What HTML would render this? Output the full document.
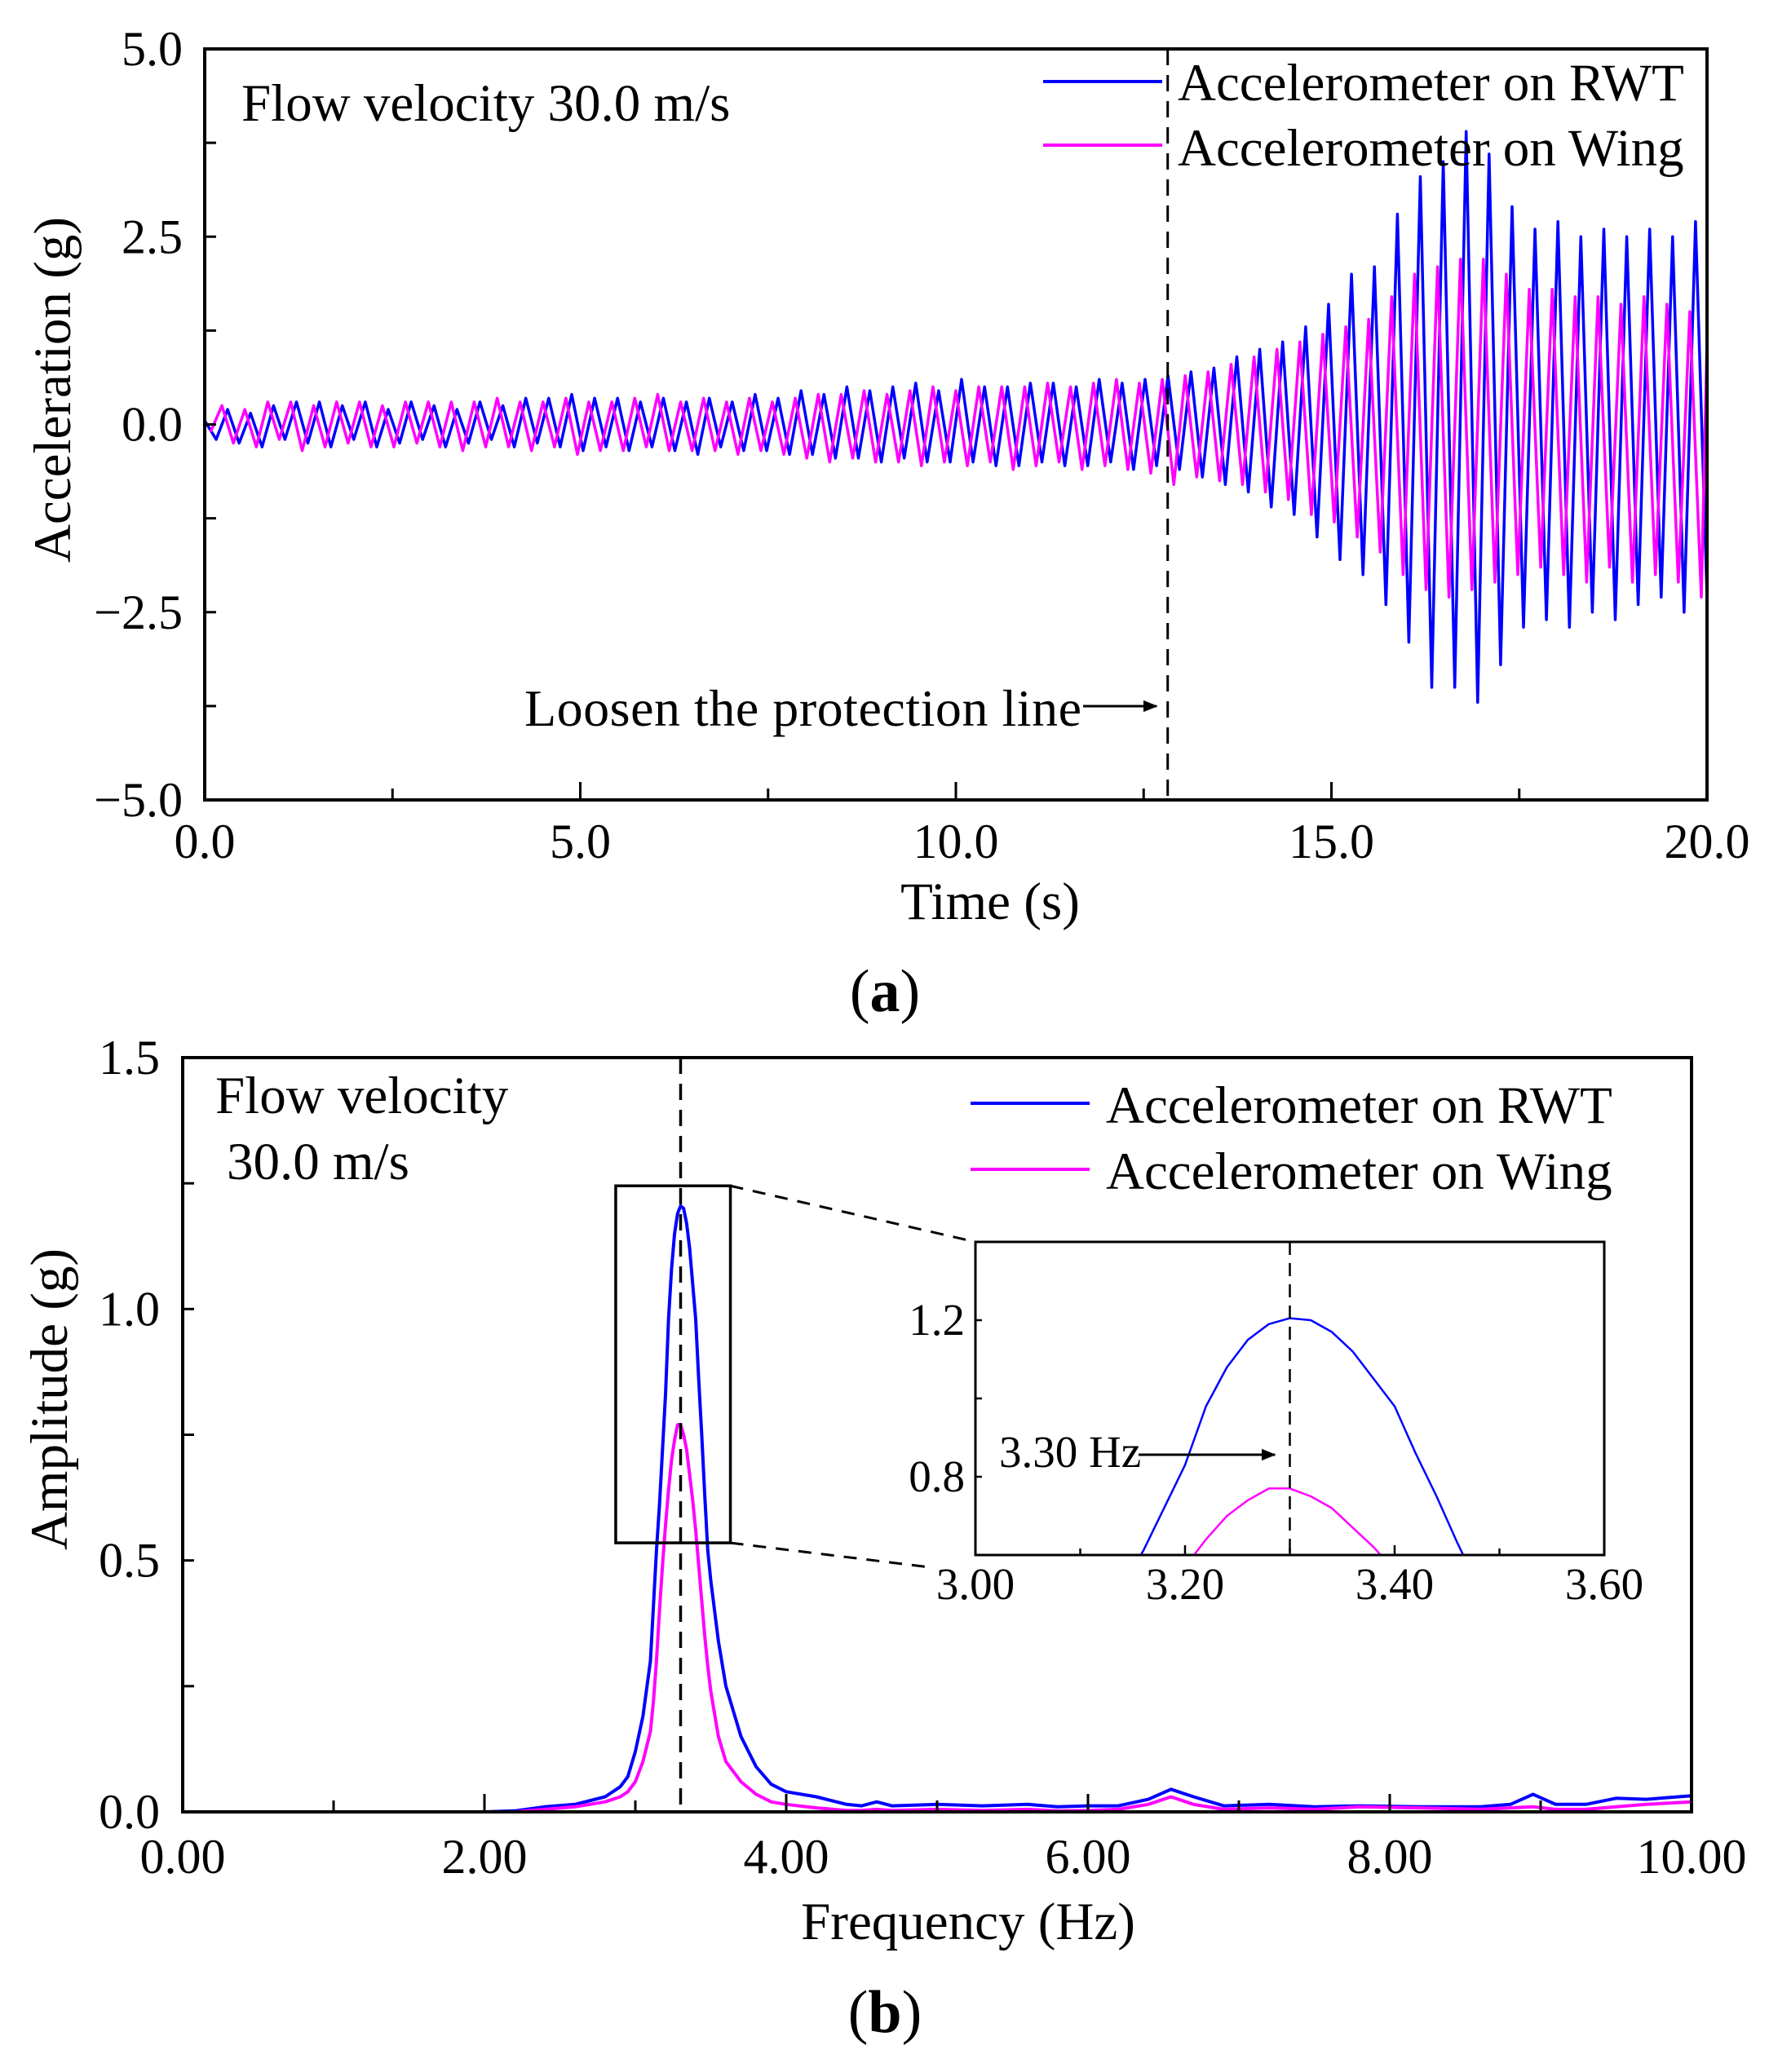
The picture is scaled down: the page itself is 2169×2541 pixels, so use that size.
<!DOCTYPE html>
<html><head><meta charset="utf-8"><style>
html,body{margin:0;padding:0;background:#fff}
svg{display:block}
text{font-family:"Liberation Serif","DejaVu Serif",serif;fill:#000}
</style></head><body>
<svg id="fig" width="2169" height="2541" viewBox="0 0 2169 2541" xmlns="http://www.w3.org/2000/svg">
<defs>
<clipPath id="clipA"><rect x="251" y="60" width="1842" height="921"/></clipPath>
<clipPath id="clipB"><rect x="224" y="1297" width="1850" height="925"/></clipPath>
<clipPath id="clipI"><rect x="1196" y="1523" width="771" height="384"/></clipPath>
<marker id="arr" viewBox="0 0 10 10" refX="9" refY="5" markerWidth="6" markerHeight="6" orient="auto"><path d="M0,1 L10,5 L0,9 z" fill="#000"/></marker>
</defs>
<g id="gA"></g>
<g id="gB"></g>
<g id="gI"></g>
</svg>
<script>
// ---- Chart (a) data ----
const timeRange = [0, 20];
const accTicks = ["5.0","2.5","0.0","\u22122.5","\u22125.0"];
const accTickValues = [5, 2.5, 0, -2.5, -5];
const timeTickLabels = ["0.0","5.0","10.0","15.0","20.0"];
const timeTickValues = [0, 5, 10, 15, 20];
const loosenTime = 12.82;
const rwtAcc = [0.05,-0.2,0.2,-0.25,0.15,-0.3,0.25,-0.2,0.3,-0.25,
0.3,-0.3,0.25,-0.2,0.3,-0.3,0.2,-0.25,0.3,-0.2,
0.25,-0.3,0.2,-0.25,0.3,-0.2,0.25,-0.3,0.35,-0.25,
0.35,-0.3,0.4,-0.35,0.35,-0.3,0.35,-0.35,0.3,-0.3,
0.35,-0.35,0.3,-0.4,0.35,-0.3,0.3,-0.35,0.4,-0.35,
0.35,-0.4,0.45,-0.4,0.4,-0.45,0.5,-0.45,0.45,-0.5,
0.5,-0.45,0.55,-0.5,0.45,-0.5,0.6,-0.5,0.5,-0.55,
0.5,-0.55,0.55,-0.5,0.55,-0.55,0.5,-0.55,0.6,-0.5,
0.55,-0.6,0.6,-0.55,0.65,-0.6,0.7,-0.7,0.75,-0.8,
0.9,-0.9,1.0,-1.1,1.1,-1.2,1.3,-1.5,1.6,-1.8,
2.0,-2.0,2.1,-2.4,2.8,-2.9,3.3,-3.5,3.5,-3.5,
3.9,-3.7,3.6,-3.2,2.9,-2.7,2.6,-2.6,2.7,-2.7,
2.5,-2.5,2.6,-2.6,2.5,-2.4,2.6,-2.3,2.5,-2.5,
2.7,-2.3];
const wingAcc = [-0.1,0.25,-0.25,0.2,-0.3,0.3,-0.2,0.3,-0.35,0.25,
-0.3,0.3,-0.25,0.3,-0.3,0.25,-0.3,0.3,-0.25,0.3,
-0.3,0.3,-0.35,0.3,-0.3,0.35,-0.3,0.3,-0.35,0.3,
-0.3,0.35,-0.4,0.3,-0.35,0.3,-0.35,0.35,-0.3,0.4,
-0.35,0.3,-0.35,0.35,-0.35,0.3,-0.4,0.35,-0.35,0.3,
-0.4,0.35,-0.45,0.4,-0.5,0.4,-0.45,0.45,-0.5,0.4,
-0.5,0.45,-0.55,0.5,-0.5,0.45,-0.55,0.5,-0.5,0.5,
-0.6,0.5,-0.55,0.55,-0.5,0.5,-0.6,0.55,-0.55,0.6,
-0.6,0.55,-0.65,0.6,-0.8,0.65,-0.7,0.7,-0.75,0.8,
-0.8,0.9,-0.9,1.0,-1.0,1.1,-1.2,1.2,-1.3,1.3,
-1.5,1.4,-1.7,1.7,-2.0,2.0,-2.2,2.1,-2.3,2.2,
-2.2,2.2,-2.1,2.0,-2.0,1.8,-1.9,1.8,-2.0,1.7,
-2.1,1.7,-1.9,1.6,-2.1,1.7,-2.0,1.6,-2.1,1.5,
-2.3,1.1];

// ---- Chart (b) data ----
const freqs = [0,0.5,1,1.5,2,2.2,2.4,2.6,2.8,2.9,2.95,3.0,3.05,
3.10,3.12,3.14,3.16,3.18,3.20,3.22,3.24,3.26,3.28,3.30,3.32,3.34,3.36,3.38,3.40,3.42,3.44,3.46,3.48,
3.5,3.55,3.6,3.7,3.8,3.9,4.0,4.2,4.4,4.5,4.6,4.7,5.0,5.3,5.6,5.8,6.0,6.2,6.4,6.55,6.7,6.9,7.2,7.5,7.8,8.2,8.6,8.8,8.95,9.1,9.3,9.5,9.7,10];
const rwtAmp = [0,0,0,0,0,0.002,0.01,0.015,0.03,0.05,0.07,0.12,0.19,
0.3,0.41,0.52,0.61,0.72,0.83,0.98,1.08,1.15,1.19,1.205,1.2,1.17,1.12,1.05,0.98,0.86,0.75,0.63,0.52,
0.46,0.34,0.25,0.15,0.09,0.055,0.04,0.03,0.015,0.012,0.02,0.012,0.015,0.012,0.015,0.01,0.012,0.012,0.025,0.045,0.03,0.012,0.015,0.01,0.012,0.01,0.01,0.015,0.035,0.015,0.015,0.027,0.025,0.032];
const wingAmp = [0,0,0,0,0,0,0.005,0.01,0.02,0.03,0.04,0.06,0.1,
0.16,0.22,0.3,0.4,0.49,0.57,0.64,0.7,0.74,0.77,0.77,0.75,0.72,0.67,0.62,0.56,0.49,0.42,0.35,0.29,
0.24,0.15,0.1,0.06,0.035,0.02,0.015,0.008,0.003,0.003,0.005,0.003,0.005,0.003,0.005,0.002,0.003,0.005,0.015,0.03,0.015,0.005,0.008,0.005,0.01,0.008,0.005,0.008,0.01,0.005,0.005,0.01,0.015,0.02];
const ampTickLabels = ["1.5","1.0","0.5","0.0"];
const ampTickValues = [1.5, 1.0, 0.5, 0.0];
const freqTickLabels = ["0.00","2.00","4.00","6.00","8.00","10.00"];
const freqTickValues = [0,2,4,6,8,10];
const peakFreq = 3.30;
const insetXTickLabels = ["3.00","3.20","3.40","3.60"];
const insetXTickValues = [3.0,3.2,3.4,3.6];
const insetYTickLabels = ["1.2","0.8"];
const insetYTickValues = [1.2,0.8];

const NS = "http://www.w3.org/2000/svg";
function mk(parent, tag, attrs, txt){
  const e = document.createElementNS(NS, tag);
  for (const k in attrs) e.setAttribute(k, attrs[k]);
  if (txt !== undefined) e.textContent = txt;
  parent.appendChild(e);
  return e;
}
function poly(pts){ return pts.map((p,i)=>(i?"L":"M")+p[0].toFixed(1)+","+p[1].toFixed(1)).join(""); }

// ===== Chart A =====
(function(){
  const g = document.getElementById("gA");
  const L=251,R=2093,T=60,B=981;
  const xs = t => L + (t-timeRange[0])/(timeRange[1]-timeRange[0])*(R-L);
  const ys = v => T + (5-v)/10*(B-T);
  const dtR = 20/(rwtAcc.length-1), dtW = 20/(wingAcc.length-1);
  const pr = mk(g,"path",{d:poly(rwtAcc.map((v,i)=>[xs(i*dtR),ys(v)])),fill:"none",stroke:"#0000ff","stroke-width":3.5,"stroke-linejoin":"round","clip-path":"url(#clipA)"});
  
  
  const pw = mk(g,"path",{d:poly(wingAcc.map((v,i)=>[xs(Math.min(20,i*dtW+dtW*0.5)),ys(v)])),fill:"none",stroke:"#ff00ff","stroke-width":3.5,"stroke-linejoin":"round","clip-path":"url(#clipA)"});
  
  
  const dl = mk(g,"line",{x1:xs(loosenTime),x2:xs(loosenTime),y1:T,y2:B,stroke:"#000","stroke-width":3,"stroke-dasharray":"20,12"});
  
  
  const fr = mk(g,"rect",{x:L,y:T,width:R-L,height:B-T,fill:"none",stroke:"#000","stroke-width":4});
  
  
  for (let t=0;t<=20;t+=2.5){
    const big = (t%5===0);
    const tk = mk(g,"line",{x1:xs(t),x2:xs(t),y1:B,y2:B-(big?22:14),stroke:"#000","stroke-width":3});
    
    
  }
  for (let v=-5;v<=5;v+=1.25){
    const tk = mk(g,"line",{x1:L,x2:L+14,y1:ys(v),y2:ys(v),stroke:"#000","stroke-width":3});
    
    
  }
  accTickValues.forEach((v,i)=>{
    const tx = mk(g,"text",{x:224,y:ys(v)+20,"font-size":60,"text-anchor":"end"},accTicks[i]);
    
    
  });
  timeTickValues.forEach((v,i)=>{
    const tx = mk(g,"text",{x:xs(v),y:1052,"font-size":60,"text-anchor":"middle"},timeTickLabels[i]);
    
    
  });
  const xt = mk(g,"text",{x:1214,y:1127,"font-size":65,"text-anchor":"middle"},"Time (s)");
  
  
  const yt = mk(g,"text",{x:0,y:0,"font-size":65,"text-anchor":"middle",transform:"translate(86,478) rotate(-90)"},"Acceleration (g)");
  
  
  const cap = mk(g,"text",{x:1085,y:1240,"font-size":74,"text-anchor":"middle"},"");
  cap.innerHTML = '(<tspan font-weight="bold">a</tspan>)';
  
  
  const fv = mk(g,"text",{x:296,y:148,"font-size":65},"Flow velocity 30.0 m/s");
  
  
  const lo = mk(g,"text",{x:643,y:890,"font-size":64,textLength:683},"Loosen the protection line");
  
  
  const ar = mk(g,"line",{x1:1328,y1:866,x2:1418,y2:866,stroke:"#000","stroke-width":3,"marker-end":"url(#arr)"});
  
  
  const l1 = mk(g,"line",{x1:1279,x2:1425,y1:100,y2:100,stroke:"#0000ff","stroke-width":4});
  
  
  const t1 = mk(g,"text",{x:1444,y:123,"font-size":65},"Accelerometer on RWT");
  
  
  const l2 = mk(g,"line",{x1:1279,x2:1425,y1:178,y2:178,stroke:"#ff00ff","stroke-width":4});
  
  
  const t2 = mk(g,"text",{x:1444,y:203,"font-size":65},"Accelerometer on Wing");
  
  
})();

// ===== Chart B =====
(function(){
  const g = document.getElementById("gB");
  const L=224,R=2074,T=1297,B=2222;
  const xs = f => L + f/10*(R-L);
  const ys = v => B - v/1.5*(B-T);
  const pr = mk(g,"path",{d:poly(freqs.map((f,i)=>[xs(f),ys(rwtAmp[i])])),fill:"none",stroke:"#0000ff","stroke-width":4,"stroke-linejoin":"round","clip-path":"url(#clipB)"});
  
  
  const pw = mk(g,"path",{d:poly(freqs.map((f,i)=>[xs(f),ys(wingAmp[i])])),fill:"none",stroke:"#ff00ff","stroke-width":4,"stroke-linejoin":"round","clip-path":"url(#clipB)"});
  
  
  const dl = mk(g,"line",{x1:xs(peakFreq),x2:xs(peakFreq),y1:T,y2:B,stroke:"#000","stroke-width":3.5,"stroke-dasharray":"20,12"});
  
  
  const fr = mk(g,"rect",{x:L,y:T,width:R-L,height:B-T,fill:"none",stroke:"#000","stroke-width":4});
  
  
  for (let f=0;f<=10;f+=1){
    const tk = mk(g,"line",{x1:xs(f),x2:xs(f),y1:B,y2:B-(f%2===0?22:14),stroke:"#000","stroke-width":3});
    
    
  }
  for (let v=0;v<=1.5;v+=0.25){
    const tk = mk(g,"line",{x1:L,x2:L+14,y1:ys(v),y2:ys(v),stroke:"#000","stroke-width":3});
    
    
  }
  ampTickValues.forEach((v,i)=>{
    const tx = mk(g,"text",{x:196,y:ys(v)+20,"font-size":60,"text-anchor":"end"},ampTickLabels[i]);
    
    
  });
  freqTickValues.forEach((v,i)=>{
    const tx = mk(g,"text",{x:xs(v),y:2297,"font-size":60,"text-anchor":"middle"},freqTickLabels[i]);
    
    
  });
  const xt = mk(g,"text",{x:1187,y:2378,"font-size":65,"text-anchor":"middle"},"Frequency (Hz)");
  
  
  const yt = mk(g,"text",{x:0,y:0,"font-size":65,"text-anchor":"middle",transform:"translate(82,1716) rotate(-90)"},"Amplitude (g)");
  
  
  const cap = mk(g,"text",{x:1085,y:2492,"font-size":74,"text-anchor":"middle"},"");
  cap.innerHTML = '(<tspan font-weight="bold">b</tspan>)';
  
  
  const f1 = mk(g,"text",{x:264,y:1365,"font-size":65},"Flow velocity");
  
  
  const f2 = mk(g,"text",{x:278,y:1446,"font-size":65},"30.0 m/s");
  
  
  const l1 = mk(g,"line",{x1:1190,x2:1336,y1:1353,y2:1353,stroke:"#0000ff","stroke-width":4});
  
  
  const t1 = mk(g,"text",{x:1356,y:1377,"font-size":65},"Accelerometer on RWT");
  
  
  const l2 = mk(g,"line",{x1:1190,x2:1336,y1:1434,y2:1434,stroke:"#ff00ff","stroke-width":4});
  
  
  const t2 = mk(g,"text",{x:1356,y:1458,"font-size":65},"Accelerometer on Wing");
  
  
  const bx0=xs(2.87), bx1=xs(3.63), by0=ys(1.245), by1=ys(0.535);
  const zb = mk(g,"rect",{x:bx0,y:by0,width:bx1-bx0,height:by1-by0,fill:"none",stroke:"#000","stroke-width":3.5});
  
  
  const c1 = mk(g,"line",{x1:bx1,y1:by0,x2:1196,y2:1523,stroke:"#000","stroke-width":3,"stroke-dasharray":"16,12"});
  
  
  const c2 = mk(g,"line",{x1:bx1,y1:by1,x2:1140,y2:1922,stroke:"#000","stroke-width":3,"stroke-dasharray":"16,12"});
  
  
})();

// ===== Inset =====
(function(){
  const g = document.getElementById("gI");
  const L=1196,R=1967,T=1523,B=1907;
  const xs = f => L + (f-3.0)/0.6*(R-L);
  const ys = v => B - (v-0.6)/0.8*(B-T);
  mk(g,"rect",{x:L,y:T,width:R-L,height:B-T,fill:"#fff",stroke:"none"});
  const pr = mk(g,"path",{d:poly(freqs.map((f,i)=>[xs(f),ys(rwtAmp[i])])),fill:"none",stroke:"#0000ff","stroke-width":2.5,"stroke-linejoin":"round","clip-path":"url(#clipI)"});
  
  
  const pw = mk(g,"path",{d:poly(freqs.map((f,i)=>[xs(f),ys(wingAmp[i])])),fill:"none",stroke:"#ff00ff","stroke-width":2.5,"stroke-linejoin":"round","clip-path":"url(#clipI)"});
  
  
  const dl = mk(g,"line",{x1:xs(peakFreq),x2:xs(peakFreq),y1:T,y2:B,stroke:"#000","stroke-width":2.5,"stroke-dasharray":"16,10"});
  
  
  const fr = mk(g,"rect",{x:L,y:T,width:R-L,height:B-T,fill:"none",stroke:"#000","stroke-width":3});
  
  
  for (let k=0;k<=6;k++){
    const f=3.0+k*0.1;
    const tk = mk(g,"line",{x1:xs(f),x2:xs(f),y1:B,y2:B-(k%2===0?12:8),stroke:"#000","stroke-width":2.5});
    
    
  }
  for (let k=0;k<=4;k++){
    const v=0.6+k*0.2;
    const tk = mk(g,"line",{x1:L,x2:L+8,y1:ys(v),y2:ys(v),stroke:"#000","stroke-width":2.5});
    
    
  }
  insetXTickValues.forEach((v,i)=>{
    const tx = mk(g,"text",{x:xs(v),y:1961,"font-size":55,"text-anchor":"middle"},insetXTickLabels[i]);
    
    
  });
  insetYTickValues.forEach((v,i)=>{
    const tx = mk(g,"text",{x:1183,y:ys(v)+18,"font-size":55,"text-anchor":"end"},insetYTickLabels[i]);
    
    
  });
  const hz = mk(g,"text",{x:1225,y:1799,"font-size":55},"3.30 Hz");
  
  
  const ar = mk(g,"line",{x1:1396,y1:1784,x2:1563,y2:1784,stroke:"#000","stroke-width":3,"marker-end":"url(#arr)"});
  
  
})();
</script>
</body></html>
